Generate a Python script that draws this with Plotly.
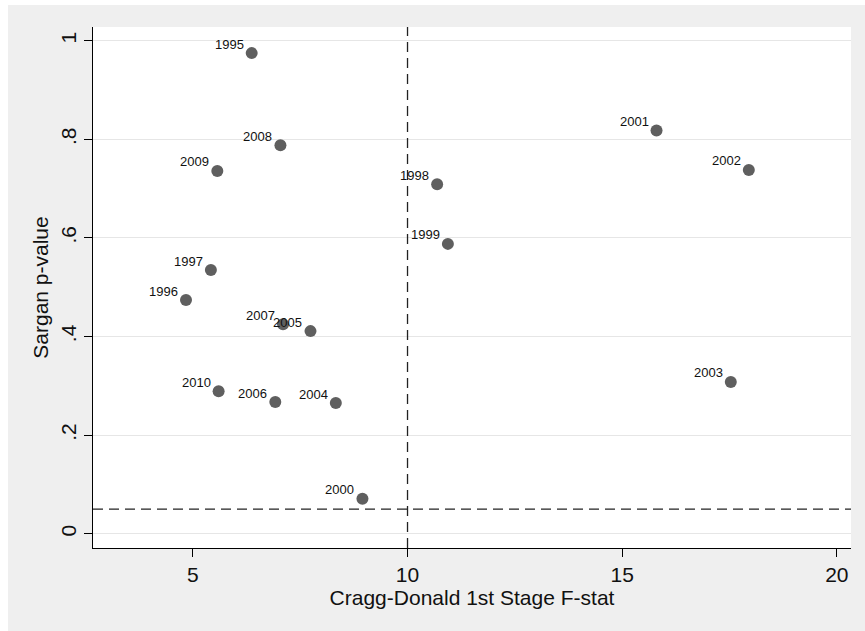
import plotly.graph_objects as go

years = ["1995", "1996", "1997", "1998", "1999", "2000", "2001", "2002", "2003",
         "2004", "2005", "2006", "2007", "2008", "2009", "2010"]
f_stat = [6.37, 4.84, 5.42, 10.69, 10.94, 8.95, 15.80, 17.95, 17.53,
          8.33, 7.74, 6.92, 7.10, 7.04, 5.57, 5.60]
sargan_p = [0.975, 0.474, 0.535, 0.709, 0.588, 0.071, 0.818, 0.738, 0.308,
            0.265, 0.411, 0.267, 0.425, 0.788, 0.736, 0.289]

x_ticks = [5, 10, 15, 20]
y_ticks = [0, 0.2, 0.4, 0.6, 0.8, 1.0]
y_tick_labels = ["0", ".2", ".4", ".6", ".8", "1"]
f_threshold = 10
p_threshold = 0.05

FONT = "Arial, Liberation Sans, sans-serif"
W, H = 857, 626
ML, MR, MT, MB = 85, 14, 22, 83

fig = go.Figure()
fig.add_trace(go.Scatter(
    x=f_stat, y=sargan_p, mode="markers",
    marker=dict(size=12, color="#5f5f5f", line=dict(width=0)),
    hoverinfo="skip", showlegend=False,
))

for xv, yv, t in zip(f_stat, sargan_p, years):
    fig.add_annotation(x=xv, y=yv, text=t, showarrow=False,
                       xanchor="right", yanchor="middle",
                       xshift=-6, yshift=9,
                       font=dict(family=FONT, size=13, color="#111111"))

dash = "10px,6px"
fig.add_shape(type="line", xref="x", yref="paper", x0=f_threshold, x1=f_threshold,
              y0=0, y1=1, line=dict(color="#222222", width=1.3, dash=dash))
fig.add_shape(type="line", xref="paper", yref="y", x0=0, x1=1,
              y0=p_threshold, y1=p_threshold, line=dict(color="#222222", width=1.3, dash=dash))

fig.update_layout(
    width=W, height=H,
    margin=dict(l=ML, r=MR, t=MT, b=MB, pad=0, autoexpand=False),
    paper_bgcolor="#efefef", plot_bgcolor="white",
    font=dict(family=FONT, color="#111111"),
    showlegend=False,
)
fig.update_xaxes(
    range=[2.674, 20.33], tickvals=x_ticks, ticktext=[str(v) for v in x_ticks],
    showgrid=False, zeroline=False, showline=True, linecolor="black", linewidth=1,
    ticks="outside", ticklen=8, tickcolor="black", tickwidth=1, automargin=False,
    tickfont=dict(family=FONT, size=21, color="#111111"),
    title=dict(text="Cragg-Donald 1st Stage F-stat", font=dict(family=FONT, size=21, color="#111111"), standoff=0),
)
fig.update_yaxes(
    range=[-0.029, 1.028], tickvals=y_ticks, ticktext=y_tick_labels, tickangle=-90,
    showgrid=True, gridcolor="#e6e6e6", gridwidth=1, zeroline=False,
    showline=True, linecolor="black", linewidth=1, automargin=False,
    ticks="outside", ticklen=8, tickcolor="black", tickwidth=1,
    tickfont=dict(family=FONT, size=21, color="#111111"),
    title=dict(text="Sargan p-value", font=dict(family=FONT, size=21, color="#111111"), standoff=2),
)

fig.write_html("out.html", post_script="document.body.style.margin='5px 0 0 8px';")
